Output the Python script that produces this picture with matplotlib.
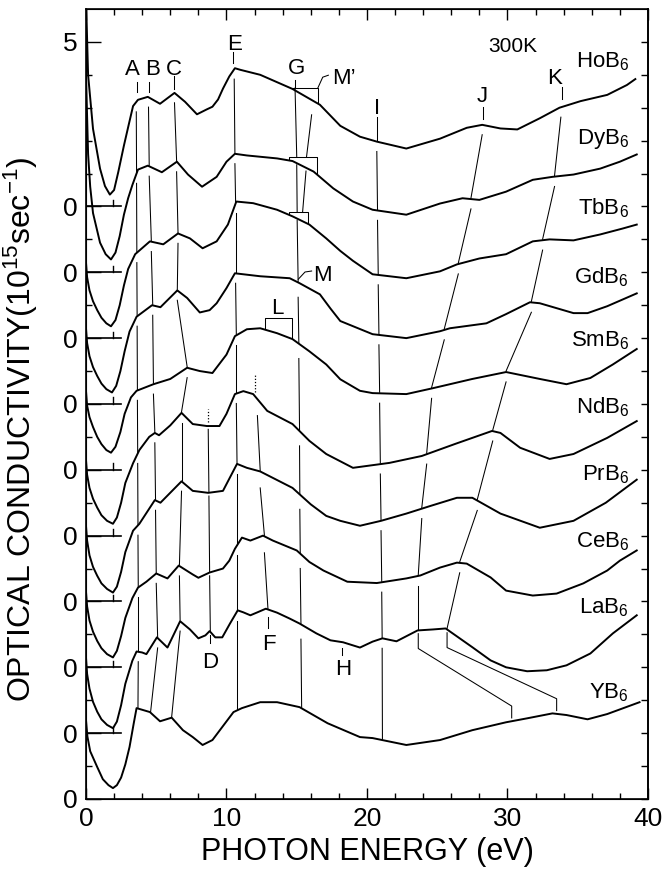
import numpy as np
import matplotlib.pyplot as plt

plt.rcParams.update({
    "font.family": "Liberation Sans",
    "mathtext.fontset": "custom",
    "mathtext.rm": "Liberation Sans",
    "mathtext.it": "Liberation Sans:italic",
    "mathtext.default": "regular",
})

hob6_e = [0.0, 0.15, 0.5, 1.0, 1.35, 1.7, 2.0, 2.3, 2.7, 3.05, 3.35, 3.7, 4.4, 5.27, 6.3, 7.05, 7.9, 8.6, 9.0, 9.4,
          9.75, 10.2, 10.6, 11.0, 12.4, 14.7, 16.65, 18.1, 19.5, 20.7, 22.8, 25.2, 27.1, 28.2, 29.5, 30.7, 32.3,
          33.7, 35.2, 37.1, 38.5, 39.1]
hob6_s = [6.3, 4.0, 2.36, 1.15, 0.62, 0.36, 0.5, 1.05, 1.85, 2.5, 3.05, 3.24, 3.33, 3.12, 3.45, 3.18, 2.8, 2.95, 3.03, 3.25,
          3.58, 3.95, 4.2, 4.15, 4.0, 3.57, 3.09, 2.45, 2.12, 1.97, 1.76, 2.06, 2.39, 2.48, 2.37, 2.34, 2.68,
          3.0, 3.2, 3.39, 3.69, 3.87]

dyb6_e = [0.0, 0.15, 0.3, 0.5, 1.0, 1.4, 1.78, 2.1, 2.4, 2.7, 3.0, 3.3, 3.7, 4.4, 5.4, 6.47, 7.26, 8.26, 9.3, 10.0,
          10.6, 11.45, 13.6, 14.7, 16.2, 17.6, 19.0, 20.4, 22.8, 25.2, 26.8, 28.0, 29.9, 31.8, 33.2, 34.7, 36.6,
          38.0, 39.2]
dyb6_s = [6.0, 3.6, 2.6, 1.8, 0.9, 0.55, 0.39, 0.6, 1.1, 1.75, 2.25, 2.65, 3.12, 3.24, 3.04, 3.36, 2.97, 2.6, 2.9, 3.36,
          3.6, 3.55, 3.46, 3.38, 3.06, 2.55, 2.15, 1.9, 1.75, 2.09, 2.25, 2.2, 2.45, 2.81, 2.9, 2.97, 3.15,
          3.36, 3.58]

tbb6_e = [0.0, 0.08, 0.25, 0.5, 0.8, 1.1, 1.45, 1.78, 2.1, 2.4, 2.7, 3.0, 3.5, 4.55, 5.5, 6.55, 7.4, 8.3, 9.3, 10.1,
          10.7, 11.9, 13.6, 14.7, 15.9, 17.1, 18.1, 19.0, 20.4, 22.8, 25.2, 26.4, 28.0, 29.9, 31.8, 33.0, 34.7,
          36.6, 38.2, 39.2]
tbb6_s = [2.3, 1.85, 1.45, 1.12, 0.85, 0.62, 0.45, 0.36, 0.55, 1.0, 1.6, 2.1, 2.55, 2.94, 2.85, 3.18, 3.03, 2.73, 2.94,
          3.45, 4.15, 4.1, 3.9, 3.7, 3.45, 3.03, 2.65, 2.35, 1.94, 1.82, 2.03, 2.24, 2.42, 2.55, 2.94, 3.0, 2.97,
          3.15, 3.33, 3.45]

gdb6_e = [0.0, 0.08, 0.25, 0.5, 0.8, 1.1, 1.45, 1.85, 2.15, 2.45, 2.75, 3.1, 3.6, 4.7, 5.3, 6.5, 7.2, 8.1, 8.8, 9.3,
          10.0, 10.6, 12.4, 14.5, 15.2, 16.65, 17.4, 18.1, 20.4, 22.8, 25.2, 25.9, 28.5, 29.9, 31.6, 32.3, 34.7,
          35.7, 37.1, 39.2]
gdb6_s = [2.3, 1.85, 1.45, 1.12, 0.85, 0.62, 0.45, 0.35, 0.55, 1.0, 1.6, 2.2, 2.65, 3.0, 2.94, 3.45, 3.22, 2.78, 2.85,
          3.06, 3.52, 3.97, 3.88, 3.82, 3.67, 3.33, 2.9, 2.52, 2.12, 2.0, 2.21, 2.3, 2.45, 2.73, 3.09, 3.06, 2.76,
          2.76, 2.97, 3.36]

smb6_e = [0.0, 0.08, 0.25, 0.5, 0.8, 1.1, 1.45, 1.78, 2.1, 2.45, 2.75, 3.2, 3.6, 4.8, 6.0, 7.2, 8.1, 9.0, 10.0, 10.6,
          11.45, 12.4, 13.6, 14.7, 15.9, 17.1, 18.1, 19.5, 20.4, 22.8, 24.7, 27.5, 29.9, 32.3, 34.2, 35.9, 37.5,
          39.2]
smb6_s = [2.4, 1.95, 1.6, 1.3, 1.0, 0.78, 0.6, 0.52, 0.7, 1.15, 1.7, 2.2, 2.4, 2.6, 2.76, 3.1, 3.0, 2.94, 3.5, 4.06,
          4.27, 4.3, 4.15, 3.97, 3.6, 3.2, 2.75, 2.4, 2.33, 2.3, 2.48, 2.76, 2.97, 2.76, 2.6, 2.79, 3.2,
          3.67]

ndb6_e = [0.0, 0.08, 0.25, 0.5, 0.8, 1.1, 1.5, 1.92, 2.2, 2.5, 2.8, 3.35, 3.8, 4.5, 4.9, 5.2, 6.0, 6.8, 7.6, 8.6,
          9.5, 10.0, 10.6, 11.2, 11.9, 12.9, 14.7, 15.9, 17.1, 19.0, 21.6, 23.9, 26.3, 28.9, 29.5, 30.9, 33.0,
          34.7, 37.1, 39.2]
ndb6_s = [2.3, 1.85, 1.45, 1.12, 0.85, 0.62, 0.45, 0.36, 0.55, 1.0, 1.6, 2.2, 2.6, 3.0, 3.12, 3.05, 3.35, 3.73, 3.39,
          3.33, 3.33, 3.7, 4.3, 4.39, 4.3, 3.79, 3.39, 2.88, 2.48, 2.06, 2.21, 2.42, 2.79, 3.18, 3.12, 2.67, 2.33,
          2.48, 2.97, 3.48]

prb6_e = [0.0, 0.08, 0.25, 0.5, 0.8, 1.1, 1.5, 1.92, 2.2, 2.5, 2.8, 3.35, 3.8, 4.9, 5.3, 6.8, 7.6, 8.7, 9.75, 10.75,
          11.45, 12.4, 14.7, 16.0, 17.1, 18.1, 19.5, 21.0, 22.8, 24.5, 26.4, 27.5, 29.5, 32.3, 34.7, 37.0, 39.2]
prb6_s = [2.3, 1.85, 1.4, 1.05, 0.78, 0.55, 0.38, 0.27, 0.45, 0.9, 1.5, 2.15, 2.36, 3.08, 3.0, 3.65, 3.36, 3.3, 3.36,
          4.18, 4.06, 3.95, 3.45, 2.95, 2.6, 2.45, 2.3, 2.45, 2.67, 2.9, 3.15, 3.15, 2.67, 2.24, 2.45, 3.0, 3.7]

ceb6_e = [0.0, 0.08, 0.25, 0.5, 0.8, 1.1, 1.5, 1.92, 2.2, 2.5, 2.8, 3.3, 3.7, 4.3, 5.0, 5.8, 6.6, 7.6, 8.0, 8.8,
          9.75, 10.2, 10.6, 11.1, 11.7, 12.6, 13.3, 15.0, 15.9, 16.9, 18.6, 20.7, 22.8, 23.8, 25.2, 26.4, 27.1,
          28.8, 29.9, 31.8, 33.5, 35.4, 37.1, 38.0, 39.2]
ceb6_s = [2.3, 1.85, 1.42, 1.08, 0.8, 0.58, 0.4, 0.3, 0.5, 0.95, 1.5, 2.1, 2.42, 2.6, 2.85, 2.7, 3.09, 2.82, 2.72,
          2.88, 3.0, 3.24, 3.6, 3.94, 3.85, 4.0, 3.85, 3.55, 3.2, 2.94, 2.6, 2.56, 2.7, 2.79, 3.03, 3.18, 3.15,
          2.73, 2.33, 2.18, 2.24, 2.55, 2.94, 3.24, 3.55]

lab6_e = [0.0, 0.08, 0.25, 0.5, 0.8, 1.1, 1.5, 1.92, 2.2, 2.5, 2.8, 3.3, 3.6, 4.0, 4.3, 5.05, 5.8, 6.7, 7.4, 8.0,
          8.5, 8.8, 9.2, 9.7, 10.25, 10.8, 11.2, 11.7, 12.2, 12.8, 13.6, 14.5, 15.2, 16.4, 17.4, 18.3, 19.5, 20.4,
          21.1, 22.1, 23.6, 24.7, 25.6, 26.3, 27.5, 28.8, 29.9, 31.4, 32.8, 34.2, 35.9, 37.5, 39.2]
lab6_s = [2.3, 1.8, 1.35, 0.95, 0.65, 0.42, 0.25, 0.15, 0.35, 0.85, 1.5, 2.2, 2.48, 2.45, 2.4, 2.91, 2.6, 3.4, 3.15,
          2.88, 2.97, 3.1, 2.91, 2.91, 3.33, 3.73, 3.67, 3.58, 3.67, 3.78, 3.66, 3.48, 3.33, 3.03, 2.82, 2.76, 2.6,
          2.78, 2.88, 2.79, 3.12, 3.15, 3.18, 2.97, 2.61, 2.21, 2.0, 1.88, 1.91, 2.06, 2.42, 3.03, 3.58]

yb6_e = [0.0, 0.1, 0.3, 0.8, 1.2, 1.6, 1.92, 2.2, 2.5, 2.8, 3.1, 3.4, 3.6, 4.55, 5.27, 6.1, 6.9, 7.6, 8.3, 9.0,
         9.9, 10.5, 11.1, 12.4, 13.6, 15.2, 17.2, 19.5, 20.4, 22.8, 25.2, 27.5, 29.9, 31.4, 33.2, 34.2, 35.7,
         37.1, 39.4]
yb6_s = [2.4, 1.9, 1.45, 0.97, 0.6, 0.42, 0.33, 0.42, 0.65, 1.05, 1.58, 2.3, 2.76, 2.64, 2.36, 2.47, 2.09, 1.88,
         1.64, 1.79, 2.3, 2.64, 2.76, 2.94, 2.94, 2.79, 2.3, 1.88, 1.85, 1.64, 1.79, 2.09, 2.33, 2.45, 2.6, 2.55,
         2.42, 2.58, 2.94]

names = ["HoB$_6$", "DyB$_6$", "TbB$_6$", "GdB$_6$", "SmB$_6$",
         "NdB$_6$", "PrB$_6$", "CeB$_6$", "LaB$_6$", "YB$_6$"]
offsets = [18, 16, 14, 12, 10, 8, 6, 4, 2, 0]
name_y = [22.24, 19.91, 17.76, 15.67, 13.76, 11.7, 9.67, 7.64, 5.64, 3.06]

# feature positions (eV) on each curve, top to bottom
feat_A = [3.58, 3.6, 3.62, 3.64, 3.66, 3.68, 3.7, 3.72, 3.72, 3.7]
feat_B = [4.45, 4.5, 4.65, 4.75, 4.8, 4.9, 4.95, 5.0, 5.1, 4.6]
feat_C = [6.3, 6.45, 6.55, 6.5, 7.2, 6.8, 6.8, 6.65, 6.7, 6.1]
feat_E = [10.55, 10.6, 10.65, 10.65, 10.7, 10.7, 10.75, 10.75, 10.75, 10.75]
feat_I = [20.7, 20.75, 20.8, 20.85, 20.9, 20.95, 21.0, 21.05, 21.08, 21.1]
feat_D = [8.7, 8.75, 8.8, 8.85]           # NdB6 .. LaB6
feat_F = [12.2, 12.4, 12.7, 12.95]        # NdB6 .. LaB6
feat_G = [15.1, 15.15, 15.2, 15.22, 15.25, 15.3, 15.35]   # GdB6 .. YB6
feat_G_top = [14.88, 15.0, 15.03, 15.1]   # HoB6 .. GdB6
feat_M1 = [16.06, 15.7, 15.66, 15.42]     # M' line HoB6 -> DyB6 -> TbB6
feat_J = [28.2, 27.4, 26.5, 25.5, 24.6, 24.25, 23.9, 23.65, 23.65]
feat_K = [33.8, 33.35, 32.5, 31.7, 29.9, 28.95, 27.85, 26.6, 25.7]
j_yb6, k_yb6 = 30.3, 33.5

bracket_curve = [0, 1, 2, 4]
bracket_x0 = [14.66, 14.47, 14.47, 12.74]
bracket_x1 = [16.5, 16.41, 15.82, 14.64]
bracket_lift = [0.02, 0.12, 0.1, 0.35]

top_labels = ["A", "B", "C", "E", "G", "J", "K", "I"]
top_label_x = [3.27, 4.73, 6.23, 10.6, 15.0, 28.22, 33.35, 20.7]
top_label_y = [21.99, 21.99, 21.99, 22.76, 22.03, 21.18, 21.73, 20.82]
top_tick_x = [3.6, 4.48, 6.26, 10.48, 14.88, 28.23, 33.86, 20.7]
top_tick_y = [(21.48, 21.79), (21.48, 21.79), (21.58, 21.97), (22.36, 22.7),
              (21.6, 21.85), (20.67, 21.03), (21.27, 21.64), (20.03, 20.73)]
low_labels = ["D", "F", "H"]
low_label_x = [8.86, 13.0, 18.3]
low_label_y = [3.97, 4.52, 3.76]
low_tick_x = [8.8, 12.97, 18.2]
low_tick_y = [(4.73, 4.97), (5.18, 5.52), (4.36, 4.6)]

curves = [(hob6_e, hob6_s), (dyb6_e, dyb6_s), (tbb6_e, tbb6_s), (gdb6_e, gdb6_s), (smb6_e, smb6_s),
          (ndb6_e, ndb6_s), (prb6_e, prb6_s), (ceb6_e, ceb6_s), (lab6_e, lab6_s), (yb6_e, yb6_s)]


def val(i, x):
    e, s = curves[i]
    return offsets[i] + np.interp(x, e, s)


fig = plt.figure(figsize=(6.65, 8.71), dpi=100)
ax = fig.add_axes([0.1293, 0.0827, 0.8451, 0.907])
ax.set_xlim(0, 40)
ax.set_ylim(0, 24)

LW = 1.4
GL = dict(color="k", lw=0.75)

for (e, s), off in zip(curves, offsets):
    ax.plot(e, np.array(s) + off, color="k", lw=LW, solid_joinstyle="round")

# zero marks for the offset curves
for off in offsets[:-1]:
    ax.plot([0, 2.5], [off, off], color="k", lw=1.2)
    ax.plot([1.9, 1.9], [off, off + 0.2], color="k", lw=1.0)


def guide(xs, idx, gap_dn=0.3, gap_up=0.03):
    for k in range(len(idx) - 1):
        a, b = idx[k], idx[k + 1]
        ax.plot([xs[k], xs[k + 1]], [val(a, xs[k]) - gap_dn, val(b, xs[k + 1]) + gap_up], **GL)


all_idx = list(range(10))
for xs in (feat_A, feat_B, feat_C, feat_E, feat_I):
    guide(xs, all_idx)
guide(feat_D, [5, 6, 7, 8], gap_dn=0.1)
guide(feat_F, [5, 6, 7, 8], gap_dn=0.5)
guide(feat_G, [3, 4, 5, 6, 7, 8, 9], gap_dn=0.45)

# dotted continuations above NdB6
for x, lo, hi in [(feat_D[0] - 0.05, 0.12, 0.52), (12.0, 0.1, 0.65)]:
    ax.plot([x, x], [val(5, x) + lo, val(5, x) + hi], color="k", lw=0.9, ls=(0, (1, 1.5)))

# J and K guides, bending down to YB6
for xs, xy in ((feat_J, j_yb6), (feat_K, k_yb6)):
    guide(xs, list(range(9)))
    xl = xs[-1]
    ax.plot([xl, xl, xy, xy],
            [val(8, xl) - 0.1, val(8, xl) - 0.55, val(9, xy) + 0.46, val(9, xy) + 0.1], **GL)

# brackets (M' on HoB6/DyB6/TbB6, L on SmB6)
bars = {}
for i, x0, x1, lift in zip(bracket_curve, bracket_x0, bracket_x1, bracket_lift):
    y0, y1 = val(i, x0), val(i, x1)
    top = max(y0, y1) + lift
    bars[i] = top
    ax.plot([x0, x0, x1, x1], [y0 + 0.03, top, top, y1 + 0.03], **GL)

# G line through the brackets, then M' line
g = feat_G_top
ax.plot([g[0], g[1]], [bars[0], bars[1]], **GL)
ax.plot([g[1], g[2]], [val(1, g[1]) - 0.05, bars[2]], **GL)
ax.plot([g[2], g[3]], [val(2, g[2]) - 0.05, val(3, g[3]) + 0.03], **GL)
m = feat_M1
ax.plot([m[0], m[1]], [val(0, m[0]) - 0.45, bars[1]], **GL)
ax.plot([m[2], m[3]], [val(1, m[2]) - 0.1, bars[2]], **GL)

# connectors to M' and M
x1 = bracket_x1[0]
ax.plot([x1, x1 + 0.35, x1 + 0.75], [bars[0], bars[0] + 0.33, bars[0] + 0.39], **GL)
ax.text(17.5, 21.73, "M\u2019", fontsize=16, ha="left", va="baseline")
ym = val(3, 15.11)
ax.plot([15.11, 15.59, 16.06], [ym + 0.1, ym + 0.32, ym + 0.35], **GL)
ax.text(16.15, 15.73, "M", fontsize=16, ha="left", va="baseline")
ax.text(13.63, 14.73, "L", fontsize=16, ha="center", va="baseline")

for t, x, y, tx, (y0, y1) in zip(top_labels, top_label_x, top_label_y, top_tick_x, top_tick_y):
    ax.text(x, y, t, fontsize=16, ha="center", va="baseline")
    ax.plot([tx, tx], [y0, y1], **GL)
for t, x, y, tx, (y0, y1) in zip(low_labels, low_label_x, low_label_y, low_tick_x, low_tick_y):
    ax.text(x, y, t, fontsize=16, ha="center", va="baseline")
    ax.plot([tx, tx], [y0, y1], **GL)

ax.text(30.35, 22.7, "300K", fontsize=15, ha="center", va="baseline")
for n, y in zip(names, name_y):
    ax.text(38.65, y, n, fontsize=16, ha="right", va="baseline")

# axes and ticks
ax.set_xticks([0, 10, 20, 30, 40])
ax.set_xticks(np.arange(0, 41, 2), minor=True)
ax.set_yticks(offsets[::-1] + [offsets[0] + 5])
ax.set_yticklabels(["0"] * 10 + ["5"])
ax.set_yticks(np.arange(0, 24, 1), minor=True)
ax.tick_params(which="both", direction="in", top=True, right=False, width=1.0)
ax.tick_params(axis="y", which="major", length=11, labelsize=19, pad=6)
ax.tick_params(axis="x", which="major", length=8, labelsize=19, pad=6)
ax.tick_params(which="minor", length=4.5)
for sp in ax.spines.values():
    sp.set_linewidth(1.2)

rax = ax.twinx()
rax.set_ylim(ax.get_ylim())
rax.set_yticks(np.arange(0, 24, 1))
rax.tick_params(direction="in", length=5, width=1.0, labelright=False)
rax.spines["right"].set_linewidth(1.2)

fig.text(0.5519, 0.0218, "PHOTON ENERGY (eV)", fontsize=22, ha="center", va="center")
fig.text(0.032, 0.507, "OPTICAL CONDUCTIVITY(10$^{15}$sec$^{-1}$)", fontsize=23,
         rotation=90, ha="center", va="center")

fig.savefig("out.png", dpi=100)
